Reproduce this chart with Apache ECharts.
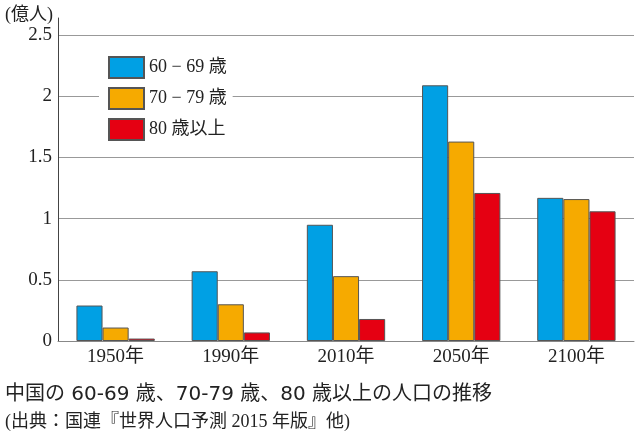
<!DOCTYPE html>
<html>
<head>
<meta charset="utf-8">
<script src="https://cdn.jsdelivr.net/npm/echarts@6/dist/echarts.min.js"></script>
<style>
html, body { margin: 0; padding: 0; background: #fff; }
#chart { width: 640px; height: 436px; }
</style>
</head>
<body>
<div id="chart"></div>
<script>
var categories = ['1950年', '1990年', '2010年', '2050年', '2100年'];
var age6069 = [0.29, 0.57, 0.95, 2.09, 1.17];
var age7079 = [0.11, 0.30, 0.53, 1.63, 1.16];
var age80up = [0.02, 0.07, 0.18, 1.21, 1.06];
var seriesNames = ['60 − 69 歳', '70 − 79 歳', '80 歳以上'];
var colors = ['#00A0E4', '#F6AA00', '#E50012'];

var serif = "'Liberation Serif', 'Noto Sans CJK JP', serif";
var gothic = "'DejaVu Sans', 'Noto Sans CJK JP', sans-serif";
var myChart = echarts.init(document.getElementById('chart'));

function barSeries(i, data) {
    return {
        name: seriesNames[i],
        type: 'bar',
        data: data,
        barGap: 0,
        barCategoryGap: '32%',
        itemStyle: { color: colors[i], borderColor: '#555', borderWidth: 1 }
    };
}

var option = {
    backgroundColor: '#fff',
    animation: false,
    title: [
        {
            text: '(億人)', left: 0, top: 1,
            textStyle: { fontFamily: serif, fontSize: 18, fontWeight: 'normal', color: '#222' }
        },
        {
            text: '中国の 60-69 歳、70-79 歳、80 歳以上の人口の推移', left: 0, top: 380,
            textStyle: { fontFamily: gothic, fontSize: 20, fontWeight: 'normal', color: '#222' }
        },
        {
            text: '(出典：国連『世界人口予測 2015 年版』他)', left: 0, top: 408,
            textStyle: { fontFamily: serif, fontSize: 18, fontWeight: 'normal', color: '#222' }
        }
    ],
    legend: {
        orient: 'vertical',
        left: 99,
        top: 52,
        padding: [4, 6, 4, 9],
        backgroundColor: '#fff',
        icon: 'rect',
        itemWidth: 35,
        itemHeight: 21,
        itemGap: 8,
        textStyle: { fontFamily: serif, fontSize: 18, color: '#222' },
        data: seriesNames
    },
    grid: { left: 58, right: 6, top: 18, bottom: 95 },
    xAxis: {
        type: 'category',
        data: categories,
        axisLine: { lineStyle: { color: '#888', width: 1 } },
        axisTick: { inside: true, length: 5, lineStyle: { color: '#888' } },
        axisLabel: { fontFamily: serif, fontSize: 19, color: '#222', margin: 7 }
    },
    yAxis: {
        type: 'value',
        min: 0,
        max: 2.64,
        interval: 0.5,
        axisLine: { show: true, lineStyle: { color: '#444', width: 1 } },
        axisTick: { show: false },
        axisLabel: { fontFamily: serif, fontSize: 19, color: '#222', margin: 6, showMaxLabel: false },
        splitLine: { showMaxLine: false, lineStyle: { color: '#999', width: 1 } }
    },
    series: [
        barSeries(0, age6069),
        barSeries(1, age7079),
        barSeries(2, age80up)
    ]
};
myChart.setOption(option);
</script>
</body>
</html>
